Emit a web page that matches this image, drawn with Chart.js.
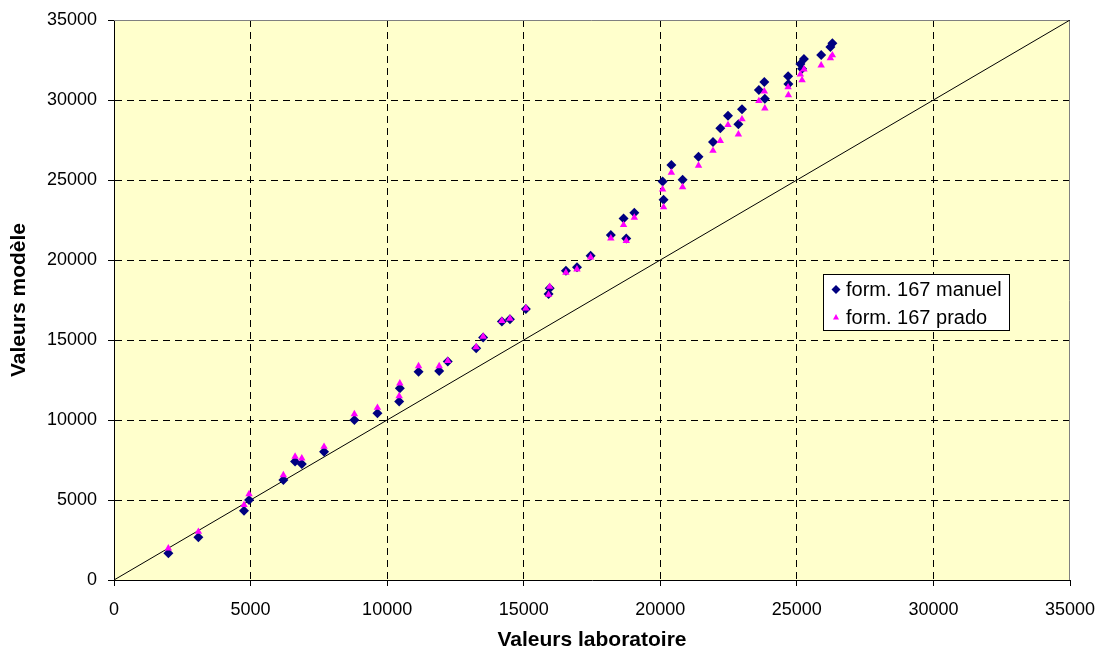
<!DOCTYPE html>
<html>
<head>
<meta charset="utf-8">
<script src="https://cdn.jsdelivr.net/npm/chart.js@4/dist/chart.umd.min.js"></script>
<style>
  html, body { margin: 0; padding: 0; background: #fff; }
  #wrap { width: 1101px; height: 653px; position: relative; }
</style>
</head>
<body>
<div id="wrap"><canvas id="scatterChart"></canvas></div>
<script>
// valeurs
const labValues = [1990, 3090, 4760, 4945, 6200, 6630, 6875, 7690, 8800, 9645,
    10440, 10465, 11150, 11905, 12220, 13260, 13515, 14200, 14495, 15080,
    15910, 15950, 16545, 16950, 17450, 18190, 18655, 18755, 19050, 20085,
    20120, 20405, 20817, 21400, 21930, 22198, 22479, 22860, 22991, 23610,
    23809, 23828, 24680, 24690, 25128, 25190, 25260, 25890, 26227, 26300];
const manuelValues = [1670, 2670, 4330, 5000, 6250, 7400, 7250, 8020, 10000, 10420,
    11150, 11980, 13020, 13060, 13650, 14480, 15150, 16150, 16290, 16940,
    17875, 18230, 19330, 19540, 20270, 21560, 22600, 21350, 22960, 24900,
    23770, 25940, 25020, 26460, 27380, 28230, 29010, 28480, 29417, 30625,
    31120, 30080, 31480, 31000, 32250, 31950, 32560, 32810, 33310, 33540];
const pradoValues = [1980, 3020, 4690, 5370, 6560, 7710, 7600, 8330, 10370, 10770,
    11500, 12290, 13370, 13370, 13700, 14560, 15220, 16200, 16340, 16980,
    17830, 18330, 19210, 19420, 20170, 21350, 22190, 21200, 22650, 24420,
    23300, 25460, 24560, 25900, 26830, 27450, 28440, 27850, 28800, 29940,
    30540, 29480, 30800, 30310, 31600, 31250, 31920, 32170, 32620, 32800];
const axisTicks = [0, 5000, 10000, 15000, 20000, 25000, 30000, 35000];
const diagonal = [0, 35000];

Chart.defaults.font.family = "'Liberation Sans', Arial, sans-serif";
Chart.defaults.color = "#000";

const plotBackground = {
    id: "plotBackground",
    beforeDraw(chart) {
        const {ctx, chartArea: a} = chart;
        ctx.save();
        ctx.fillStyle = "#fff";
        ctx.fillRect(0, 0, chart.width, chart.height);
        ctx.fillStyle = "#FFFFCC";
        ctx.fillRect(a.left, a.top, a.right - a.left, a.bottom - a.top);
        ctx.restore();
    },
    beforeDatasetsDraw(chart) {
        const {ctx, chartArea: a} = chart;
        ctx.save();
        ctx.strokeStyle = "#808080";
        ctx.lineWidth = 1;
        ctx.beginPath();
        ctx.moveTo(a.left, Math.round(a.top) + 0.5);
        ctx.lineTo(Math.round(a.right) - 0.5, Math.round(a.top) + 0.5);
        ctx.lineTo(Math.round(a.right) - 0.5, a.bottom);
        ctx.stroke();
        ctx.restore();
    }
};

const insideLegend = {
    id: "insideLegend",
    afterDraw(chart) {
        const ctx = chart.ctx;
        const items = chart.data.datasets.filter(d => d.legend);
        ctx.save();
        ctx.fillStyle = "#fff";
        ctx.strokeStyle = "#000";
        ctx.lineWidth = 1;
        ctx.fillRect(823.5, 274.5, 186, 56);
        ctx.strokeRect(823.5, 274.5, 186, 56);
        ctx.font = "20px 'Liberation Sans', Arial, sans-serif";
        ctx.textBaseline = "middle";
        items.sort((a, b) => a.legend - b.legend).forEach((d, i) => {
            const y = 289.5 + i * 28;
            const x = 836;
            ctx.fillStyle = d.backgroundColor;
            ctx.beginPath();
            if (d.pointStyle === "rectRot") {
                ctx.moveTo(x - 4.5, y);
                ctx.lineTo(x, y - 4.5);
                ctx.lineTo(x + 4.5, y);
                ctx.lineTo(x, y + 4.5);
            } else {
                ctx.moveTo(x, y - 3.5);
                ctx.lineTo(x + 3, y + 2);
                ctx.lineTo(x - 3, y + 2);
            }
            ctx.closePath();
            ctx.fill();
            ctx.fillStyle = "#000";
            ctx.fillText(d.label, 846, y + 1);
        });
        ctx.restore();
    }
};

function gridColor(c) {
    return c.tick && c.tick.value === 35000 ? "rgba(0,0,0,0)" : "#000";
}

const plainNumber = v => String(v);

const scatterChart = new Chart(
    document.getElementById("scatterChart"),
    {
        type: "scatter",
        data: {
            datasets: [{
                label: "form. 167 prado",
                legend: 2,
                data: labValues.map((x, i) => ({x: x, y: pradoValues[i]})),
                pointStyle: "triangle",
                pointRadius: 4.3,
                pointBorderWidth: 0,
                backgroundColor: "#FF00FF",
                borderColor: "#FF00FF",
                order: 1
            }, {
                label: "form. 167 manuel",
                legend: 1,
                data: labValues.map((x, i) => ({x: x, y: manuelValues[i]})),
                pointStyle: "rectRot",
                pointRadius: 5,
                pointBorderWidth: 0,
                backgroundColor: "#000080",
                borderColor: "#000080",
                order: 2
            }, {
                type: "line",
                label: "y = x",
                data: diagonal.map(v => ({x: v, y: v})),
                borderColor: "#000",
                borderWidth: 1,
                pointRadius: 0,
                fill: false,
                order: 3
            }]
        },
        options: {
            responsive: true,
            maintainAspectRatio: false,
            animation: false,
            layout: {
                padding: {left: 0, top: 20, right: 31, bottom: 0}
            },
            plugins: {
                legend: {display: false},
                tooltip: {enabled: false}
            },
            scales: {
                x: {
                    type: "linear",
                    min: 0,
                    max: 35000,
                    afterBuildTicks: s => { s.ticks = axisTicks.map(v => ({value: v})); },
                    afterFit: s => { s.height = 73; s.paddingRight = 0; s.paddingLeft = 0; },
                    ticks: {
                        font: {size: 18},
                        padding: 13,
                        maxRotation: 0,
                        callback: plainNumber
                    },
                    grid: {
                        color: gridColor,
                        tickColor: "#000",
                        tickLength: 6,
                        lineWidth: 1
                    },
                    border: {
                        color: "#000",
                        width: 1,
                        dash: [7, 5]
                    },
                    title: {
                        display: true,
                        text: "Valeurs laboratoire",
                        font: {size: 21, weight: "bold"},
                        padding: {top: 0, bottom: 0}
                    }
                },
                y: {
                    type: "linear",
                    min: 0,
                    max: 35000,
                    afterBuildTicks: s => { s.ticks = axisTicks.map(v => ({value: v})); },
                    afterFit: s => { s.width = 114; s.paddingTop = 0; s.paddingBottom = 0; },
                    ticks: {
                        font: {size: 18},
                        padding: 11,
                        callback: plainNumber
                    },
                    grid: {
                        color: gridColor,
                        tickColor: "#000",
                        tickLength: 6,
                        lineWidth: 1
                    },
                    border: {
                        color: "#000",
                        width: 1,
                        dash: [7, 5]
                    },
                    title: {
                        display: true,
                        text: "Valeurs modèle",
                        font: {size: 21, weight: "bold"},
                        padding: {top: 7, bottom: 0}
                    }
                }
            }
        },
        plugins: [plotBackground, insideLegend]
    }
);
</script>
</body>
</html>
